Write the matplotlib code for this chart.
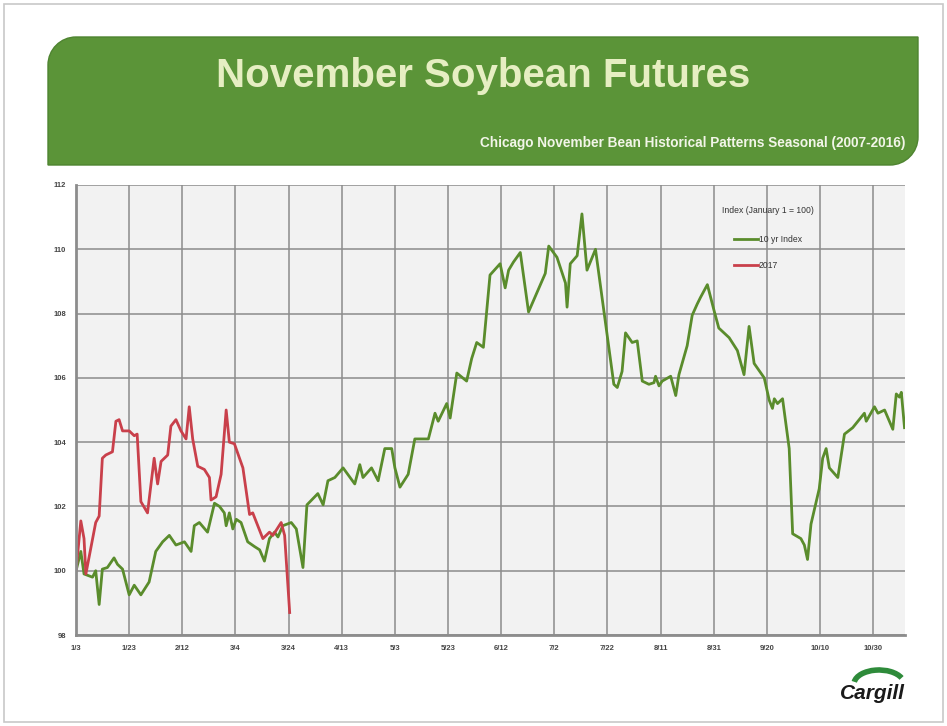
import numpy as np
import matplotlib
matplotlib.use("Agg")
import matplotlib.pyplot as plt
from matplotlib.patches import PathPatch, Rectangle, Arc
from matplotlib.path import Path

plt.rcParams['font.family'] = ['Liberation Sans', 'DejaVu Sans']

# x = days after Jan 3
tick_days = [0, 20, 40, 60, 80, 100, 120, 140, 160, 180, 200, 220, 240, 260, 280, 300]
tick_labels = ['1/3', '1/23', '2/12', '3/4', '3/24', '4/13', '5/3', '5/23',
               '6/12', '7/2', '7/22', '8/11', '8/31', '9/20', '10/10', '10/30']

# 10 yr index (2007-2016)
idx_days = [0, 1.8, 3, 6.2, 7.4, 8.7, 9.9, 11.8, 14.3, 15.6, 17.5, 20, 21.9, 24.4, 27.5,
            30, 32.6, 35.1, 37.6, 40.8, 43.3, 44.5, 46.4, 49.5, 52.1, 54, 55.8, 56.5,
            57.7, 59, 60.3, 62.1, 64.6, 67.2, 69.1, 70.9, 72.8, 74.7, 76, 77.8, 81,
            82.9, 85.4, 86.9, 91, 93, 94.8, 97.4, 100.5, 104.9, 106.8, 108, 111.2,
            113.7, 116.2, 118.8, 120, 121.9, 125, 127.5, 132.6, 135.1, 136.3, 139.5,
            140.8, 143.3, 147, 148.9, 150.8, 153.3, 155.8, 159.6, 161.5, 162.8, 164.6,
            167.2, 170.3, 176.6, 177.9, 181, 184.2, 184.8, 186, 188.6, 190.4, 192.3,
            195.5, 202.4, 203.7, 205.5, 206.8, 209.3, 211.2, 213.1, 215.6, 217.5,
            218.1, 219.4, 220.6, 223.8, 225.7, 226.9, 230, 231.9, 233.8, 235, 237.6,
            240.1, 241.9, 245.8, 248.9, 251.4, 253.3, 255.2, 259, 260.9, 262.1, 262.8,
            264, 265.9, 268.4, 269.7, 272.8, 274.1, 275.3, 276.6, 279.7, 281, 282.3,
            283.5, 286.7, 289.2, 292.3, 296.7, 297.4, 300.5, 301.8, 304.3, 307.4,
            308.7, 309.9, 310.6, 311.8]
idx_vals = [100.0, 100.6, 99.9, 99.8, 100.0, 98.95, 100.05, 100.1, 100.4, 100.2, 100.05,
            99.25, 99.55, 99.25, 99.65, 100.6, 100.9, 101.1, 100.8, 100.9, 100.6, 101.4,
            101.5, 101.2, 102.1, 102.0, 101.8, 101.4, 101.8, 101.3, 101.6, 101.5, 100.9,
            100.75, 100.65, 100.3, 101.0, 101.2, 101.05, 101.4, 101.5, 101.3, 100.1,
            102.05, 102.4, 102.05, 102.8, 102.9, 103.2, 102.7, 103.3, 102.9, 103.2,
            102.8, 103.8, 103.8, 103.2, 102.6, 103.0, 104.1, 104.1, 104.9, 104.65,
            105.2, 104.75, 106.15, 105.9, 106.6, 107.1, 106.95, 109.2, 109.55, 108.8,
            109.35, 109.6, 109.9, 108.05, 109.25, 110.1, 109.75, 108.95, 108.2, 109.55,
            109.8, 111.1, 109.35, 110.0, 105.8, 105.7, 106.2, 107.4, 107.1, 107.15,
            105.9, 105.8, 105.85, 106.05, 105.75, 105.9, 106.05, 105.45, 106.1, 107.0,
            107.95, 108.3, 108.5, 108.9, 108.1, 107.55, 107.25, 106.85, 106.1, 107.6,
            106.45, 106.0, 105.3, 105.05, 105.35, 105.2, 105.35, 103.8, 101.15, 101.0,
            100.8, 100.35, 101.45, 102.55, 103.5, 103.8, 103.2, 102.9, 104.25, 104.45,
            104.9, 104.65, 105.1, 104.9, 105.0, 104.4, 105.5, 105.4, 105.55, 104.45]

# 2017
yr_days = [0, 1.8, 3, 3.7, 7.4, 8.7, 9.9, 11.2, 13.7, 15, 16.2, 17.5, 20, 21.9, 23, 24.4,
           26.9, 29.4, 30.7, 32, 34.5, 35.7, 37.6, 39.5, 41.4, 42.6, 43.9, 45.8, 48.3,
           50.2, 50.8, 52.7, 54.6, 56.5, 57.7, 59.6, 62.8, 65.3, 66.5, 70.3, 72.8, 74.1,
           77.2, 78.5, 80.4]
yr_vals = [100.0, 101.55, 101.0, 99.9, 101.5, 101.7, 103.5, 103.6, 103.7, 104.65, 104.7,
           104.35, 104.35, 104.2, 104.25, 102.15, 101.8, 103.5, 102.7, 103.4, 103.6,
           104.5, 104.7, 104.35, 104.1, 105.1, 104.1, 103.25, 103.15, 102.9, 102.2,
           102.3, 103.0, 105.0, 104.0, 103.95, 103.2, 101.75, 101.8, 101.0, 101.2,
           101.1, 101.5, 101.1, 98.7]

W, H = 9.47, 7.26
fig = plt.figure(figsize=(W, H), dpi=100)
fig.patch.set_facecolor('white')

# outer frame
fig.add_artist(Rectangle((0.004, 0.005), 0.992, 0.99, transform=fig.transFigure,
                         fill=False, edgecolor='#c8c8c8', linewidth=1.2))

# green banner, rounded top-left and bottom-right corners
x0, x1 = 0.48, 9.18
y0, y1 = H - 1.65, H - 0.37
r = 0.28
k = 0.5523 * r
verts = [(x0 + r, y1), (x1, y1), (x1, y0 + r),
         (x1, y0 + r - k), (x1 - r + k, y0), (x1 - r, y0),
         (x0, y0), (x0, y1 - r),
         (x0, y1 - r + k), (x0 + r - k, y1), (x0 + r, y1),
         (x0 + r, y1)]
codes = [Path.MOVETO, Path.LINETO, Path.LINETO,
         Path.CURVE4, Path.CURVE4, Path.CURVE4,
         Path.LINETO, Path.LINETO,
         Path.CURVE4, Path.CURVE4, Path.CURVE4,
         Path.CLOSEPOLY]
banner = PathPatch(Path(verts, codes), transform=fig.dpi_scale_trans,
                   facecolor='#5b9438', edgecolor='#4e8430', linewidth=1)
fig.add_artist(banner)

fig.text(0.51, 0.895, 'November Soybean Futures', ha='center', va='center',
         fontsize=29, fontweight='bold', color='#e6eec2')
fig.text(0.956, 0.803, 'Chicago November Bean Historical Patterns Seasonal (2007-2016)',
         ha='right', va='center', fontsize=9.8, fontweight='bold', color='#f2f5e8')

ax = fig.add_axes([0.0803, 0.1253, 0.8754, 0.6199])
ax.set_facecolor('#f2f2f2')
ax.plot(idx_days, idx_vals, color='#5a8c2c', linewidth=2.0, label='10 yr Index')
ax.plot(yr_days, yr_vals, color='#c9404b', linewidth=2.0, label='2017')

ax.set_xlim(0, 312)
ax.set_ylim(98, 112)
ax.set_xticks(tick_days)
ax.set_xticklabels(tick_labels)
ax.set_yticks(np.arange(98, 113, 2))
ax.tick_params(axis='both', labelsize=5.5, colors='#444444', length=0, pad=7)
for lab in ax.get_xticklabels() + ax.get_yticklabels():
    lab.set_fontweight('bold')
ax.grid(True, color='#8c8c8c', linewidth=1.1)
ax.set_axisbelow(True)
for side in ['top', 'right']:
    ax.spines[side].set_visible(False)
for side in ['left', 'bottom']:
    ax.spines[side].set_color('#8c8c8c')
    ax.spines[side].set_linewidth(2)

leg = ax.legend(title='Index (January 1 = 100)', loc='upper left',
                bbox_to_anchor=(0.775, 0.96), frameon=False, fontsize=6.2,
                title_fontsize=6.2, handlelength=2.8, handletextpad=0.1,
                labelspacing=2.0, borderaxespad=0)
leg._legend_box.align = 'center'
leg._legend_box.sep = 14
for t in leg.get_texts():
    t.set_color('#333333')
leg.get_title().set_color('#333333')

# Cargill logo
fig.text(0.956, 0.045, 'Cargill', ha='right', va='center', fontsize=15,
         fontweight='bold', style='italic', color='#1a1a1a')
fig.add_artist(Arc((8.79, 0.42), 0.5, 0.28, theta1=15, theta2=175,
                   transform=fig.dpi_scale_trans, color='#2e8b3a', linewidth=4))

fig.savefig('out.png', dpi=100)
